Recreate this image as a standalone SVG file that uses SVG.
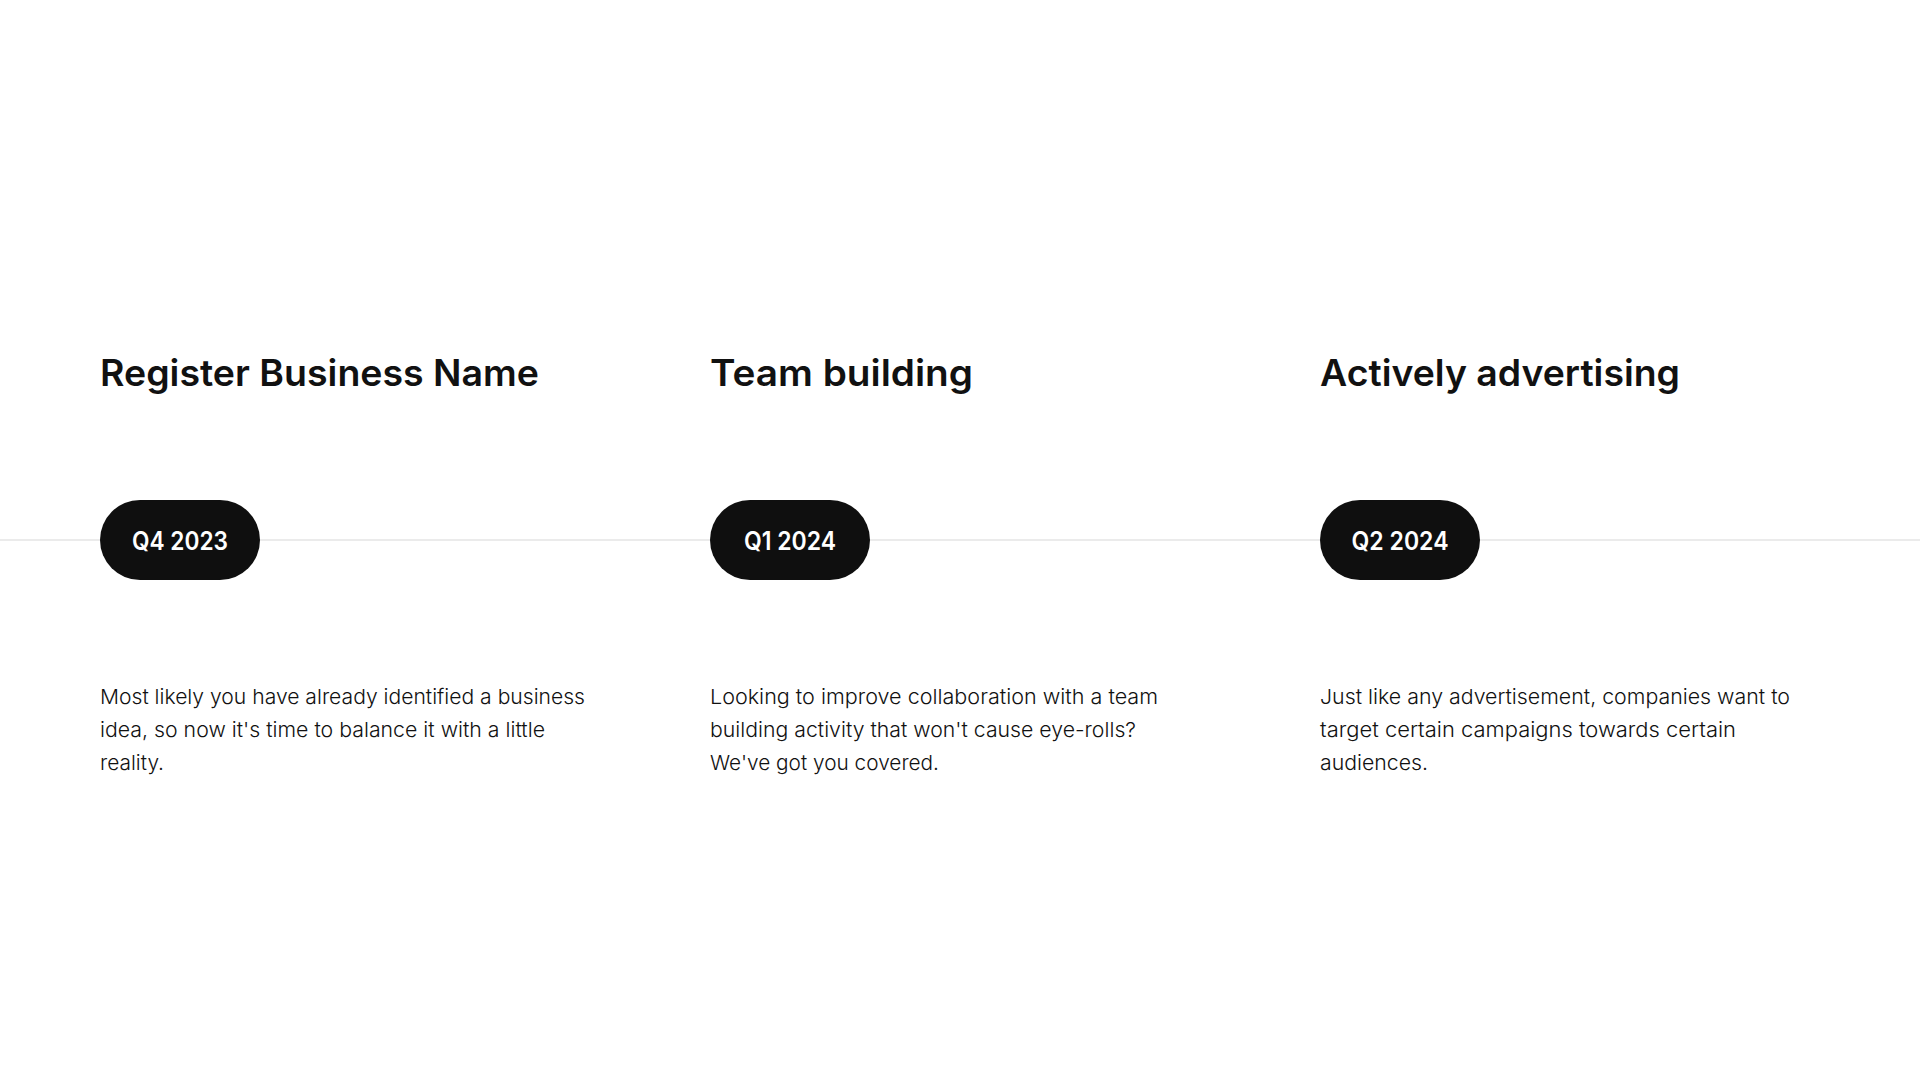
<svg xmlns="http://www.w3.org/2000/svg" width="1920" height="1080" viewBox="0 0 1920 1080">
<style>
.bg{fill:#ffffff}
.title{font-family:Inter,"Noto Sans","Liberation Sans",sans-serif;font-weight:600;font-size:37px;fill:#111111}
.pill{fill:#0f0f0f}
.pilltext{font-family:Inter,"Noto Sans","Liberation Sans",sans-serif;font-weight:600;font-size:25px;fill:#ffffff;text-anchor:middle}
.body{font-family:Inter,"Noto Sans","Liberation Sans",sans-serif;font-weight:300;font-size:20.5px;fill:#111111}
.axis{stroke:#ebebeb;stroke-width:2;fill:none}
</style>
<rect class="bg" x="0" y="0" width="1920" height="1080"/>
<g id="connectors">
<line class="axis" x1="0" y1="540" x2="1920" y2="540"/>
</g>
<g id="node-q4-2023">
<text class="title" x="100" y="386" textLength="439" lengthAdjust="spacingAndGlyphs">Register Business Name</text>
<rect class="pill" x="100" y="500" width="160" height="80" rx="40"/>
<text class="pilltext" x="180" y="550" textLength="96" lengthAdjust="spacingAndGlyphs">Q4 2023</text>
<text class="body" x="100" y="704" textLength="485" lengthAdjust="spacingAndGlyphs">Most likely you have already identified a business</text>
<text class="body" x="100" y="737" textLength="445" lengthAdjust="spacingAndGlyphs">idea, so now it's time to balance it with a little</text>
<text class="body" x="100" y="770" textLength="64" lengthAdjust="spacingAndGlyphs">reality.</text>
</g>
<g id="node-q1-2024">
<text class="title" x="710" y="386" textLength="263" lengthAdjust="spacingAndGlyphs">Team building</text>
<rect class="pill" x="710" y="500" width="160" height="80" rx="40"/>
<text class="pilltext" x="790" y="550" textLength="92" lengthAdjust="spacingAndGlyphs">Q1 2024</text>
<text class="body" x="710" y="704" textLength="448" lengthAdjust="spacingAndGlyphs">Looking to improve collaboration with a team</text>
<text class="body" x="710" y="737" textLength="426" lengthAdjust="spacingAndGlyphs">building activity that won't cause eye-rolls?</text>
<text class="body" x="710" y="770" textLength="229" lengthAdjust="spacingAndGlyphs">We've got you covered.</text>
</g>
<g id="node-q2-2024">
<text class="title" x="1320" y="386" textLength="360" lengthAdjust="spacingAndGlyphs">Actively advertising</text>
<rect class="pill" x="1320" y="500" width="160" height="80" rx="40"/>
<text class="pilltext" x="1400" y="550" textLength="97" lengthAdjust="spacingAndGlyphs">Q2 2024</text>
<text class="body" x="1320" y="704" textLength="470" lengthAdjust="spacingAndGlyphs">Just like any advertisement, companies want to</text>
<text class="body" x="1320" y="737" textLength="416" lengthAdjust="spacingAndGlyphs">target certain campaigns towards certain</text>
<text class="body" x="1320" y="770" textLength="108" lengthAdjust="spacingAndGlyphs">audiences.</text>
</g>
</svg>
